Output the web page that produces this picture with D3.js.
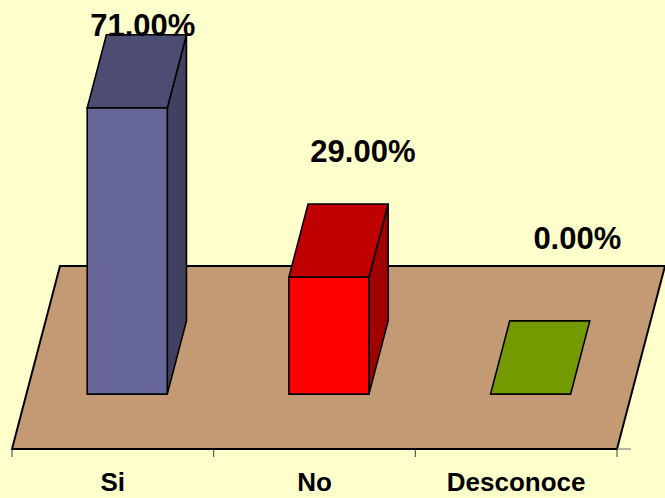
<!DOCTYPE html>
<html>
<head>
<meta charset="utf-8">
<script src="https://cdn.jsdelivr.net/npm/d3@7/dist/d3.min.js"></script>
<style>
  html, body { margin: 0; padding: 0; background: #FFFFCC; }
  svg { display: block; }
</style>
</head>
<body>
<svg id="chart" width="665" height="498"></svg>
<script>
// Survey answers and their shares (%)
const categories = ["Si", "No", "Desconoce"];
const values = [71, 29, 0];
const valueLabels = ["71.00%", "29.00%", "0.00%"];

// Face colours per category: front, top, side
const frontColors = ["#666699", "#FF0000", "#739A00"];
const topColors = ["#4D4D73", "#C00000", "#739A00"];
const sideColors = ["#404060", "#A00000", "#567300"];

const W = 665, H = 498;
const svg = d3.select("#chart");

svg.append("rect").attr("width", W).attr("height", H).attr("fill", "#FFFFCC");

// Oblique 3D projection: floor front edge at y=449, full depth shifts by (48, -183)
const floorFrontY = 449;
const depthDX = 48, depthDY = -183;
const barDepth0 = 0.3, barDepth1 = 0.7;

const x = d3.scaleBand()
  .domain(categories)
  .range([12, 617])
  .paddingInner(0.603)
  .paddingOuter(0.3015);

// height in percent -> pixels of vertical rise
const h = d3.scaleLinear().domain([0, 100]).range([0, 403]);

function proj(px, val, d) {
  return [px + d * depthDX, floorFrontY + d * depthDY - h(val)];
}

// Floor
const x0 = x.range()[0], x1 = x.range()[1];
const floorPts = [proj(x0, 0, 0), proj(x1, 0, 0), proj(x1, 0, 1), proj(x0, 0, 1)];
svg.append("polygon")
  .attr("points", floorPts.map(p => p.join(",")).join(" "))
  .attr("fill", "#C49A74")
  .attr("stroke", "#000")
  .attr("stroke-width", 2)
  .attr("stroke-linejoin", "miter");

// Category axis: gray domain extension and ticks at slot boundaries
svg.append("line")
  .attr("x1", x1).attr("x2", x1 + 14)
  .attr("y1", floorFrontY).attr("y2", floorFrontY)
  .attr("stroke", "#808080").attr("stroke-width", 1.2);

const boundaries = d3.range(categories.length + 1).map(i => x0 + i * x.step());
svg.append("g").selectAll("line")
  .data(boundaries)
  .join("line")
  .attr("x1", d => d).attr("x2", d => d)
  .attr("y1", floorFrontY).attr("y2", floorFrontY + 8)
  .attr("stroke", "#404040").attr("stroke-width", 1);

svg.append("line")
  .attr("x1", x0).attr("x2", x1)
  .attr("y1", floorFrontY).attr("y2", floorFrontY)
  .attr("stroke", "#000").attr("stroke-width", 2);

// Bars
const bars = svg.append("g");
categories.forEach((c, i) => {
  const v = values[i];
  const L = x(c), R = x(c) + x.bandwidth();
  const g = bars.append("g");
  const poly = (pts, fill) => g.append("polygon")
    .attr("points", pts.map(p => p.join(",")).join(" "))
    .attr("fill", fill)
    .attr("stroke", "#000")
    .attr("stroke-width", 1.6)
    .attr("stroke-linejoin", "miter");

  if (v > 0) {
    // right side face
    poly([proj(R, 0, barDepth0), proj(R, v, barDepth0), proj(R, v, barDepth1), proj(R, 0, barDepth1)], sideColors[i]);
  }
  // top face
  poly([proj(L, v, barDepth0), proj(R, v, barDepth0), proj(R, v, barDepth1), proj(L, v, barDepth1)], topColors[i]);
  if (v > 0) {
    // front face
    poly([proj(L, 0, barDepth0), proj(R, 0, barDepth0), proj(R, v, barDepth0), proj(L, v, barDepth0)], frontColors[i]);
  }
});

// Value labels, placed above and behind each bar
const labelY = d3.scaleLinear().domain([0, 100]).range([249, -51]);
const labelDX = d3.scaleLinear().domain([0, 100]).range([162, 118]);
svg.append("g").selectAll("text")
  .data(categories)
  .join("text")
  .attr("x", (c, i) => x0 + i * x.step() + labelDX(values[i]))
  .attr("y", (c, i) => labelY(values[i]))
  .attr("text-anchor", "middle")
  .attr("font-family", "'Liberation Sans', Arial, sans-serif")
  .attr("font-weight", "bold")
  .attr("font-size", 31)
  .attr("fill", "#000")
  .text((c, i) => valueLabels[i]);

// Category labels
svg.append("g").selectAll("text")
  .data(categories)
  .join("text")
  .attr("x", c => x(c) + x.bandwidth() / 2)
  .attr("y", 491)
  .attr("text-anchor", "middle")
  .attr("font-family", "'Liberation Sans', Arial, sans-serif")
  .attr("font-weight", "bold")
  .attr("font-size", 26)
  .attr("fill", "#000")
  .text(c => c);
</script>
</body>
</html>
